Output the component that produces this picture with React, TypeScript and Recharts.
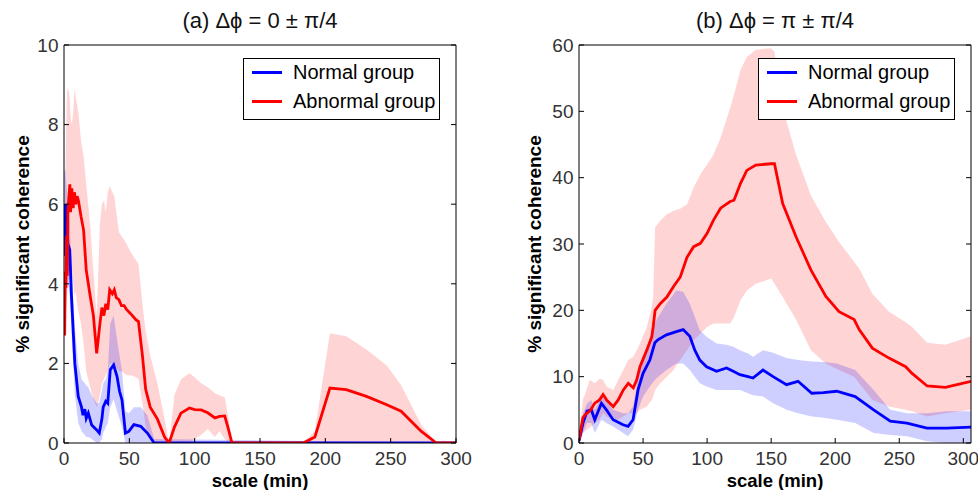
import React from 'react';
import { ComposedChart, Line, Area, XAxis, YAxis, Legend, Label } from 'recharts';

const FONT = '"Liberation Sans", Arial, Helvetica, sans-serif';

// ---------- Panel (a): Δϕ = 0 ± π/4 ----------
const aRedX = [0.5, 1, 1.5, 2, 2.5, 3, 4, 4.5, 5, 6, 7, 8, 9, 10, 11, 13, 15, 17, 20, 22.5, 25, 27.5, 29, 30.5, 32, 33.5, 35, 37, 38.5, 40, 42, 44, 46, 48, 51, 55, 57, 60, 62.5, 66, 71.5, 77, 80.5, 84.5, 89.5, 96, 100, 105, 110, 115.5, 119, 123, 126, 128.5, 150, 183, 192, 203.5, 216, 231.5, 247, 258, 273.5, 285, 300];
const aRedMean = [2.7, 4.3, 3.9, 5.2, 4.2, 5.8, 6.3, 6.5, 5.8, 6.4, 5.9, 6.3, 6.0, 6.2, 6.1, 5.7, 5.35, 4.35, 3.7, 3.2, 2.25, 3.0, 3.4, 3.2, 3.5, 3.35, 3.85, 3.75, 3.85, 3.65, 3.6, 3.45, 3.45, 3.35, 3.25, 3.1, 3.05, 2.2, 1.35, 0.9, 0.6, 0.15, 0, 0.4, 0.75, 0.88, 0.84, 0.83, 0.76, 0.63, 0.67, 0.68, 0.33, 0, 0, 0, 0.15, 1.38, 1.34, 1.17, 0.96, 0.8, 0.29, 0, 0];
const aRedHi = [5.0, 6.5, 7.5, 8.5, 8.9, 8.9, 8.8, 8.6, 8.2, 8.0, 8.3, 8.9, 8.7, 8.5, 8.3, 7.6, 7.2, 6.5, 5.5, 4.3, 3.2, 5.5, 6.0, 6.1, 5.8, 6.3, 6.45, 6.3, 6.2, 5.8, 5.3, 5.2, 5.1, 5.0, 4.8, 4.6, 4.5, 3.5, 2.8, 2.2, 1.5, 0.6, 0, 1.2, 1.6, 1.75, 1.65, 1.5, 1.4, 1.25, 1.2, 1.15, 0.6, 0, 0, 0, 0.3, 2.76, 2.68, 2.35, 1.95, 1.45, 0.45, 0, 0];
const aRedLo = [2.5, 3.0, 3.3, 3.6, 3.8, 4.0, 4.2, 4.3, 4.0, 4.3, 4.0, 3.7, 3.8, 3.5, 3.3, 3.0, 2.5, 1.8, 1.4, 1.1, 0.9, 1.2, 1.5, 1.6, 1.7, 1.8, 2.0, 2.0, 1.9, 1.9, 1.8, 1.8, 1.75, 1.7, 1.7, 1.65, 1.6, 1.0, 0.4, 0.1, 0, 0, 0, 0, 0, 0, 0.1, 0.2, 0.35, 0.15, 0.3, 0.1, 0, 0, 0, 0, 0, 0, 0, 0, 0, 0, 0, 0, 0];

const aBlueX = [0, 1, 1.8, 3, 4.4, 5.7, 8.3, 10.9, 13.4, 14.5, 16, 17, 18.6, 21.2, 25, 27, 29, 30, 32, 33.5, 35.4, 38, 40.6, 42.5, 44.4, 47, 49.6, 53.5, 58.7, 63.8, 69, 300];
const aBlueMean = [4.7, 6.0, 5.9, 5.0, 4.85, 3.7, 2.0, 1.17, 0.9, 0.7, 0.85, 0.62, 0.75, 0.45, 0.33, 0.25, 0.6, 0.9, 1.05, 1.0, 1.84, 1.96, 1.67, 1.3, 1.08, 0.25, 0.29, 0.46, 0.42, 0.25, 0, 0];
const aBlueHi = [6.8, 6.9, 6.5, 6.0, 5.5, 4.5, 2.9, 2.0, 1.6, 1.55, 1.5, 1.45, 1.4, 1.2, 1.0, 1.0, 1.3, 1.5, 1.6, 1.8, 3.0, 3.2, 2.6, 2.2, 1.8, 0.8, 0.75, 0.9, 0.9, 0.7, 0.1, 0];
const aBlueLo = [3.5, 4.8, 5.0, 4.0, 3.7, 2.8, 1.2, 0.5, 0.3, 0.25, 0.2, 0.15, 0.15, 0.1, 0, 0, 0.1, 0.25, 0.4, 0.5, 0.9, 1.1, 0.8, 0.6, 0.4, 0, 0, 0, 0, 0, 0, 0];

// ---------- Panel (b): Δϕ = π ± π/4 ----------
const bRedX = [0, 0.5, 3, 5, 8.4, 12.3, 16, 18.8, 21.5, 26.7, 30.6, 34.6, 38.5, 42.4, 45, 47.6, 52.9, 56.8, 57.9, 59.4, 63.4, 68.6, 73.8, 79, 84.3, 89.5, 94.8, 100, 105, 110.5, 118, 121, 126, 131, 138, 150, 152.6, 159, 169.4, 181, 192.7, 203, 214.8, 218.7, 229, 242, 255, 260, 271.8, 286, 306];
const bRedMean = [0.5, 1.0, 3.8, 4.3, 4.8, 6.0, 6.5, 7.3, 6.5, 5.5, 6.5, 8.0, 9.0, 8.3, 9.5, 11.5, 14, 16, 17.5, 20, 21, 22, 23.6, 25, 28, 29.6, 30.1, 31.6, 33.6, 35.4, 36.4, 36.6, 39.1, 41.1, 41.9, 42.1, 42.1, 36.1, 31.1, 26.1, 22.1, 19.8, 18.6, 17.1, 14.3, 12.8, 11.5, 10.5, 8.6, 8.4, 9.3];
const bRedHi = [1.5, 2, 6.5, 7.5, 9.5, 9, 9.7, 9.5, 8.5, 8, 9.5, 11, 12.5, 13, 14, 15, 17.5, 20.5, 22, 32.5, 33.5, 34.5, 35, 35.3, 36, 38.5, 40.5, 42, 43.5, 46, 50.5, 52.5, 56.2, 58.2, 59.3, 59.5, 59, 50.5, 43.5, 37.3, 33.3, 30.3, 27.3, 26.3, 22.5, 19.8, 18.2, 17.5, 15.1, 14.8, 16.1];
const bRedLo = [0, 0, 1.5, 1.8, 2.3, 3, 3.5, 4.5, 4.0, 3.5, 3.5, 4, 4.5, 4.5, 4.5, 5, 5.5, 6.5, 7, 8, 9, 10, 11, 12.5, 14, 15.5, 16.5, 17.5, 18, 18, 18, 19, 21.5, 23, 24, 24.8, 24, 22, 18.6, 14, 12, 11, 10, 9, 6.5, 5.5, 5, 4.8, 4, 4.5, 5];

const bBlueX = [0, 0.5, 3.1, 6.3, 9.6, 12.3, 17.5, 21.4, 26.6, 34.4, 38.3, 42.2, 46.1, 50, 55.3, 59.2, 61.8, 68.3, 76, 81.3, 86.5, 90.4, 94.3, 99.6, 107.4, 115.2, 120.4, 125.6, 132, 135.8, 143.6, 151.5, 162, 171, 181.7, 190.8, 201.2, 215.6, 230, 243, 256, 271.6, 287, 306];
const bBlueMean = [0.3, 0.75, 3.0, 4.8, 5.0, 3.5, 6.0, 5.0, 3.5, 2.75, 2.5, 3.5, 8.0, 10.5, 12.5, 15.1, 15.6, 16.3, 16.8, 17.1, 16.1, 14, 12.5, 11.5, 10.8, 11.3, 10.8, 10.3, 10, 9.8, 11, 10, 8.8, 9.3, 7.5, 7.6, 7.8, 7.0, 5.0, 3.3, 3.0, 2.25, 2.25, 2.4];
const bBlueHi = [1.0, 1.5, 4.5, 6, 6.5, 5, 7.0, 6.5, 5.0, 4.5, 4.5, 5.5, 10, 13, 15, 18, 19, 21, 23, 22.8, 21, 19, 17, 16, 15, 14.8, 14.5, 14, 13.5, 13, 14, 13.6, 12.8, 12.5, 12.3, 12.2, 12, 11, 8, 5, 4.5, 4.5, 4.8, 4.8];
const bBlueLo = [0, 0, 1.5, 3, 3, 1.5, 3.5, 3, 2.5, 1.5, 1.0, 2, 5, 7, 8.5, 9.5, 10, 11, 12, 12, 11, 10, 9, 8.5, 8, 8, 8, 8, 7.5, 7.2, 7, 6, 5, 4.5, 4, 3.8, 3.5, 3, 1.5, 1.2, 1.0, 0.25, 0, 0];

const xTicks = [0, 50, 100, 150, 200, 250, 300];
const aYTicks = [0, 2, 4, 6, 8, 10];
const bYTicks = [0, 10, 20, 30, 40, 50, 60];
const seriesNames = ['Normal group', 'Abnormal group'];
const seriesColors = ['#0000ff', '#ff0000'];

type Row = { x: number; y: number; r: [number, number] };
const rows = (xs: number[], ys: number[], lo: number[], hi: number[]): Row[] =>
  xs.map((x, i) => ({ x, y: ys[i], r: [lo[i], hi[i]] as [number, number] }));

function LegendBox() {
  return (
    <div
      style={{
        width: 197,
        height: 62,
        border: '1px solid #000',
        background: '#fff',
        boxSizing: 'border-box',
        position: 'relative',
        fontFamily: FONT,
        fontSize: 20,
        color: '#000',
      }}
    >
      {seriesNames.map((name, i) => (
        <div
          key={name}
          style={{
            position: 'absolute',
            left: 0,
            top: 13 + i * 29 - 12,
            height: 24,
            display: 'flex',
            alignItems: 'center',
            whiteSpace: 'nowrap',
          }}
        >
          <span style={{ display: 'inline-block', width: 30, height: 3, background: seriesColors[i], marginLeft: 8, marginRight: 11 }} />
          <span style={{ lineHeight: '24px' }}>{name}</span>
        </div>
      ))}
    </div>
  );
}

type PanelProps = {
  left: number;
  title: string;
  red: Row[];
  blue: Row[];
  xMax: number;
  yMax: number;
  yTicks: number[];
  margin: { top: number; right: number; bottom: number; left: number };
  legendLeft: number;
  yLabelOffset: number;
};

const tickStyle = { fill: '#333', fontSize: 19, fontFamily: FONT };

function Panel(p: PanelProps) {
  return (
    <div style={{ position: 'absolute', left: p.left, top: 0 }}>
      <ComposedChart width={489} height={490} margin={p.margin}>
        <XAxis
          dataKey="x"
          type="number"
          domain={[0, p.xMax]}
          allowDataOverflow
          ticks={xTicks}
          interval={0}
          height={1}
          tickSize={-5}
          tickMargin={13.5}
          axisLine={{ stroke: '#000' }}
          tickLine={{ stroke: '#000' }}
          tick={tickStyle}
        >
          <Label value="scale (min)" position="bottom" offset={30} fill="#000" fontSize={18.5} fontWeight="bold" fontFamily={FONT} />
        </XAxis>
        <XAxis
          xAxisId="top"
          orientation="top"
          type="number"
          domain={[0, p.xMax]}
          allowDataOverflow
          ticks={xTicks}
          interval={0}
          height={1}
          tickSize={-5}
          tickFormatter={() => ''}
          axisLine={{ stroke: '#000' }}
          tickLine={{ stroke: '#000' }}
        >
          <Label value={p.title} position="top" offset={16} fill="#111" fontSize={22} fontFamily={FONT} />
        </XAxis>
        <YAxis
          type="number"
          domain={[0, p.yMax]}
          allowDataOverflow
          ticks={p.yTicks}
          interval={0}
          width={1}
          tickSize={-5}
          tickMargin={10.5}
          axisLine={{ stroke: '#000' }}
          tickLine={{ stroke: '#000' }}
          tick={tickStyle}
        >
          <Label
            value="% significant coherence"
            position="left"
            angle={-90}
            offset={p.yLabelOffset}
            fill="#000"
            fontSize={19}
            fontWeight="bold"
            fontFamily={FONT}
            style={{ textAnchor: 'middle' }}
          />
        </YAxis>
        <YAxis
          yAxisId="right"
          orientation="right"
          type="number"
          domain={[0, p.yMax]}
          allowDataOverflow
          ticks={p.yTicks}
          interval={0}
          width={1}
          tickSize={-5}
          tickFormatter={() => ''}
          axisLine={{ stroke: '#000' }}
          tickLine={{ stroke: '#000' }}
        />
        <Area data={p.red} dataKey="r" type="linear" stroke="none" fill="#ff0000" fillOpacity={0.17} isAnimationActive={false} />
        <Area data={p.blue} dataKey="r" type="linear" stroke="none" fill="#0000ff" fillOpacity={0.19} isAnimationActive={false} />
        <Line data={p.blue} dataKey="y" type="linear" stroke="#0000ff" strokeWidth={2.8} dot={false} isAnimationActive={false} />
        <Line data={p.red} dataKey="y" type="linear" stroke="#ff0000" strokeWidth={2.8} dot={false} isAnimationActive={false} />
        <Legend
          layout="horizontal"
          verticalAlign="middle"
          align="center"
          content={() => <LegendBox />}
          wrapperStyle={{ left: p.legendLeft, top: 58, width: 197, height: 62 }}
        />
      </ComposedChart>
    </div>
  );
}

export default function App() {
  const aRed = rows(aRedX, aRedMean, aRedLo, aRedHi);
  const aBlue = rows(aBlueX, aBlueMean, aBlueLo, aBlueHi);
  const bRed = rows(bRedX, bRedMean, bRedLo, bRedHi);
  const bBlue = rows(bBlueX, bBlueMean, bBlueLo, bBlueHi);
  return (
    <div style={{ position: 'absolute', left: 0, top: 0, width: 978, height: 490, background: '#fff', overflow: 'hidden' }}>
      <Panel
        left={0}
        title="(a) Δϕ = 0 ± π/4"
        red={aRed}
        blue={aBlue}
        xMax={300}
        yMax={10}
        yTicks={aYTicks}
        margin={{ top: 44, right: 32, bottom: 46, left: 63 }}
        legendLeft={243}
        yLabelOffset={41}
      />
      <Panel
        left={489}
        title="(b) Δϕ = π ± π/4"
        red={bRed}
        blue={bBlue}
        xMax={306}
        yMax={60}
        yTicks={bYTicks}
        margin={{ top: 44, right: 6, bottom: 46, left: 89 }}
        legendLeft={269}
        yLabelOffset={44}
      />
    </div>
  );
}
